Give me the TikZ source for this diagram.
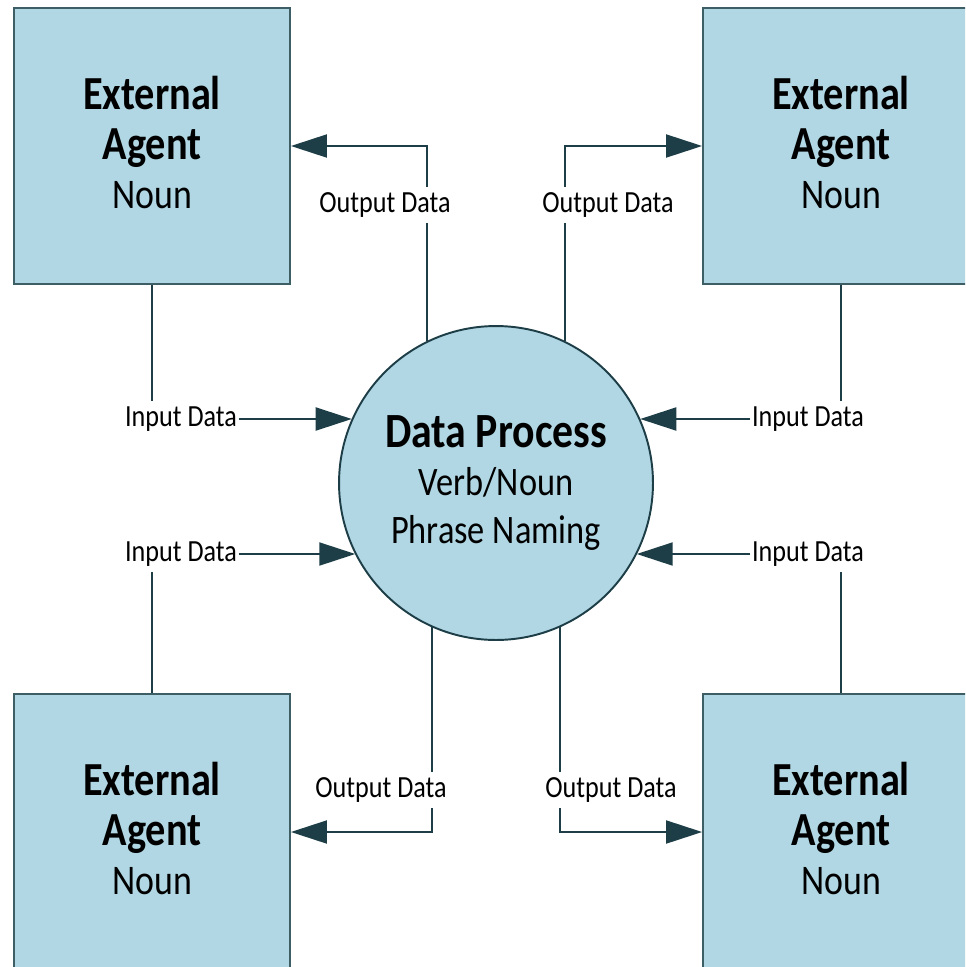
\documentclass[tikz,border=0pt]{standalone}
\usepackage{fontspec}
\setmainfont{Carlito}[FakeStretch=0.85]
\usetikzlibrary{arrows.meta}

\definecolor{agentblue}{RGB}{176,215,227}
\definecolor{flowline}{RGB}{29,61,71}
\definecolor{edgegray}{RGB}{62,94,102}

\newcommand{\agenttext}{\textbf{External}\\\textbf{Agent}\\{\fontsize{24}{28}\selectfont Noun\vphantom{g}}}

\begin{document}
\begin{tikzpicture}[
    x=0.02cm, y=-0.02cm,
    agent/.style={
      rectangle,
      draw=edgegray,
      fill=agentblue,
      line width=1.1pt,
      minimum width=5.52cm,
      minimum height=5.52cm,
      inner sep=0pt,
      align=center,
      font=\fontsize{27}{28}\selectfont
    },
    process/.style={
      circle,
      draw=flowline,
      fill=agentblue,
      line width=1.1pt,
      minimum size=6.28cm,
      inner sep=0pt,
      align=center,
      font=\fontsize{23}{27.5}\selectfont
    },
    flowlabel/.style={
      fill=white,
      inner xsep=1pt,
      inner ysep=3pt,
      font=\fontsize{17.5}{18}\selectfont
    },
    flow/.style={draw=flowline, line width=1.1pt},
    arrow/.style={flow, -{Triangle[length=0.72cm,width=0.46cm]}}
  ]
    \useasboundingbox (0,0) rectangle (965,967);
    \clip (0,0) rectangle (965,967);

    % agents and process
    \node[agent] (agentTL) at (152,146) {\agenttext};
    \node[agent] (agentTR) at (841,146) {\agenttext};
    \node[agent] (agentBL) at (152,832) {\agenttext};
    \node[agent] (agentBR) at (841,832) {\agenttext};
    \node[process] (proc) at (496,483) {{\fontsize{28}{28}\selectfont\bfseries Data Process}\\Verb/Noun\\Phrase Naming};

    % input labels
    \node[flowlabel] (inTL) at (181,419) {Input Data};
    \node[flowlabel] (inTR) at (808,419) {Input Data};
    \node[flowlabel] (inBL) at (181,554) {Input Data};
    \node[flowlabel] (inBR) at (808,554) {Input Data};

    % output flows
    \draw[arrow] (proc.116) |- (agentTL.east);
    \draw[arrow] (proc.64) |- (agentTR.west);
    \draw[arrow] (proc.246) |- (agentBL.east);
    \draw[arrow] (proc.294) |- (agentBR.west);

    % output labels
    \node[flowlabel] (outTL) at (385,205) {Output Data};
    \node[flowlabel] (outTR) at (608,205) {Output Data};
    \node[flowlabel] (outBL) at (381,790) {Output Data};
    \node[flowlabel] (outBR) at (611,790) {Output Data};

    % input flows
    \draw[flow] (agentTL.south) -- (agentTL.south |- inTL.north);
    \draw[arrow] (inTL.east) -- (inTL.east -| proc.156);
    \draw[flow] (agentTR.south) -- (agentTR.south |- inTR.north);
    \draw[arrow] (inTR.west) -- (inTR.west -| proc.24);
    \draw[flow] (agentBL.north) -- (agentBL.north |- inBL.south);
    \draw[arrow] (inBL.east) -- (inBL.east -| proc.207);
    \draw[flow] (agentBR.north) -- (agentBR.north |- inBR.south);
    \draw[arrow] (inBR.west) -- (inBR.west -| proc.333);
\end{tikzpicture}
\end{document}
